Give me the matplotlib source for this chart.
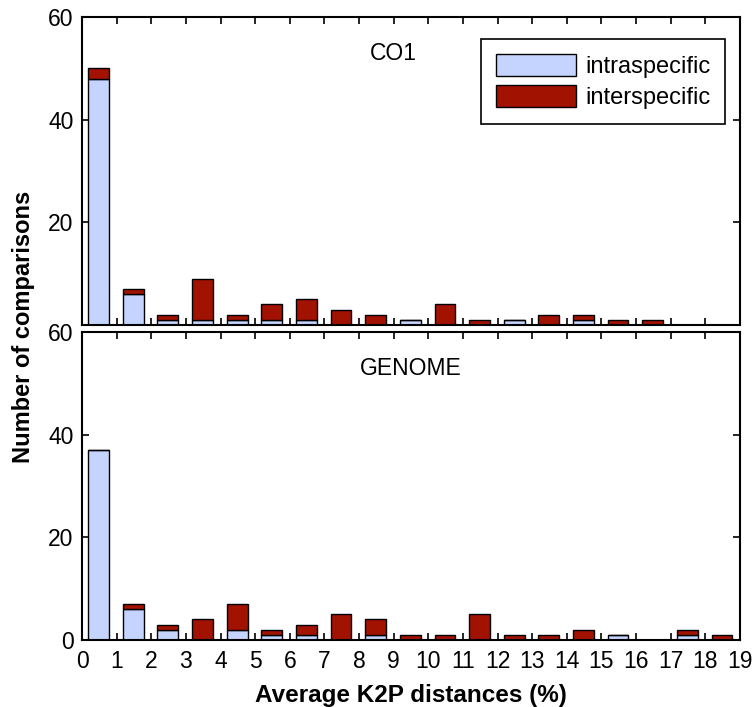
import numpy as np
import matplotlib
matplotlib.use('Agg')
import matplotlib.pyplot as plt

# Distance bins (%), one bar per integer interval
bins = np.arange(19)

# CO1 panel
co1_intra = [48, 6, 1, 1, 1, 1, 1, 0, 0, 1, 0, 0, 1, 0, 1, 0, 0, 0, 0]
co1_inter = [2, 1, 1, 8, 1, 3, 4, 3, 2, 0, 4, 1, 0, 2, 1, 1, 1, 0, 0]

# GENOME panel
gen_intra = [37, 6, 2, 0, 2, 1, 1, 0, 1, 0, 0, 0, 0, 0, 0, 1, 0, 1, 0]
gen_inter = [0, 1, 1, 4, 5, 1, 2, 5, 3, 1, 1, 5, 1, 1, 2, 0, 0, 1, 1]

x_ticks = list(range(20))
y_ticks = [0, 20, 40, 60]

INTRA_COLOR = '#c4d4fe'
INTER_COLOR = '#a11200'

plt.rcParams['font.family'] = ['Liberation Sans', 'DejaVu Sans']

fig = plt.figure(figsize=(7.53, 7.07), dpi=100)
ax_top = fig.add_axes([0.1089, 0.5403, 0.8738, 0.4357])
ax_bot = fig.add_axes([0.1089, 0.0948, 0.8738, 0.4356])


def draw_panel(ax, intra, inter, label, label_x, label_y):
    """Stacked bars of intra- and interspecific comparisons."""
    centers = bins + 0.48
    ax.bar(centers, intra, width=0.6, color=INTRA_COLOR, edgecolor='black',
           linewidth=1.0, label='intraspecific')
    ax.bar(centers, inter, width=0.6, bottom=intra, color=INTER_COLOR,
           edgecolor='black', linewidth=1.0, label='interspecific')
    ax.set_xlim(0, 19)
    ax.set_ylim(0, 60)
    ax.set_xticks(x_ticks)
    ax.set_yticks(y_ticks)
    ax.tick_params(direction='in', length=5, width=1.2, top=True, right=True,
                   labelsize=16.5)
    ax.tick_params(axis='x', pad=7)
    ax.tick_params(axis='y', pad=6)
    for spine in ax.spines.values():
        spine.set_linewidth(1.5)
    ax.text(label_x, label_y, label, ha='center', va='center', fontsize=16.5)


draw_panel(ax_top, co1_intra, co1_inter, 'CO1', 9.0, 52.9)
draw_panel(ax_bot, gen_intra, gen_inter, 'GENOME', 9.5, 52.9)

ax_top.set_xticklabels([])
ax_top.set_yticklabels(['', '20', '40', '60'])

# Shared axis titles
fig.text(0.5458, 0.007, 'Average K2P distances (%)', ha='center',
         va='baseline', fontsize=17.5, fontweight='bold')
fig.text(0.031, 0.5375, 'Number of comparisons', rotation=90, ha='center',
         va='center', fontsize=17, fontweight='bold')

leg = ax_top.legend(loc='upper right', bbox_to_anchor=(0.977, 0.928),
                    fontsize=17, handlelength=3.4, handleheight=1.06,
                    fancybox=False, edgecolor='black', framealpha=1,
                    borderpad=0.62, labelspacing=0.3, handletextpad=0.37,
                    borderaxespad=0)
leg.get_frame().set_linewidth(1.2)

fig.savefig('out.png', dpi=100)
